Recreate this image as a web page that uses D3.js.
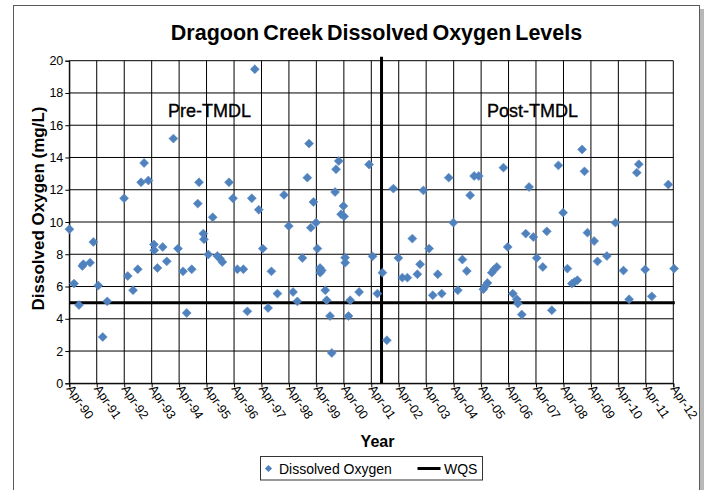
<!DOCTYPE html>
<html>
<head>
<meta charset="utf-8">
<script src="https://cdn.jsdelivr.net/npm/d3@7"></script>
<style>
  body { margin: 0; background: #fff; }
  text { font-family: "Liberation Sans", Arial, sans-serif; fill: #000; }
</style>
</head>
<body>
<div id="chart"></div>
<script>
const width = 711;
const height = 490;

// sample dates and dissolved oxygen (mg/L)
const sampleDates = [
  "1990-04-03","1990-06-03","1990-08-08","1990-09-22","1990-10-05","1991-01-02","1991-02-15","1991-04-22","1991-06-20","1991-08-19",
  "1992-03-30","1992-05-18","1992-07-27","1992-09-28","1992-11-11","1992-12-21","1993-02-16","1993-05-01","1993-05-05","1993-06-16",
  "1993-08-26","1993-10-19","1994-01-15","1994-03-17","1994-05-23","1994-07-11","1994-09-16","1994-12-05","1994-12-22","1995-02-17",
  "1995-02-26","1995-04-25","1995-06-22","1995-08-23","1995-09-27","1995-10-28","1996-01-25","1996-03-18","1996-05-15","1996-08-03",
  "1996-09-25","1996-11-23","1997-01-02","1997-02-24","1997-04-18","1997-06-28","1997-08-11","1997-10-30","1998-01-26","1998-03-30",
  "1998-05-26","1998-07-22","1998-09-27","1998-12-02","1998-12-25","1999-01-17","1999-02-21","1999-03-28","1999-04-15","1999-05-20",
  "1999-06-12","1999-05-22","1999-07-29","1999-08-17","1999-09-30","1999-10-23","1999-12-06","1999-12-19","2000-01-24","2000-02-24",
  "2000-03-26","2000-04-04","2000-04-17","2000-04-19","2000-06-01","2000-06-24","2000-10-21","2001-03-03","2001-04-18","2001-06-21",
  "2001-08-27","2001-10-25",
  "2002-01-20","2002-03-27","2002-05-19","2002-07-25","2002-09-29","2002-12-05","2003-01-10","2003-02-23","2003-05-10","2003-06-28",
  "2003-09-02","2003-10-25","2004-01-26","2004-03-28","2004-05-26","2004-07-26","2004-09-23","2004-11-06","2004-12-29","2005-03-01",
  "2005-05-01","2005-05-24","2005-06-24","2005-08-21","2005-09-21","2005-10-27","2006-01-23","2006-03-21","2006-05-28","2006-07-20",
  "2006-08-02","2006-09-24","2006-11-16","2006-12-30","2007-02-25","2007-04-11","2007-07-01","2007-08-23","2007-10-29","2008-01-24",
  "2008-03-27","2008-05-23","2008-07-21","2008-08-25","2008-10-03","2008-12-05","2009-01-05","2009-02-14","2009-05-14","2009-06-27",
  "2009-10-30","2010-02-21","2010-06-08","2010-08-22","2010-12-02","2010-12-29","2011-03-24","2011-06-20","2012-01-26","2012-04-12"
];

const dissolvedOxygen = [
  9.55, 6.18, 4.85, 7.27, 7.38, 7.48, 8.76, 6.06, 2.87, 5.08,
  11.47, 6.65, 5.77, 7.07, 12.46, 13.66, 12.57, 8.6, 8.25, 7.15,
  8.45, 7.56, 15.17, 8.35, 6.94, 4.36, 7.07, 11.14, 12.46, 9.28,
  8.93, 7.98, 10.29, 7.89, 7.73, 7.52, 12.46, 11.47, 7.07, 7.07,
  4.46, 11.47, 19.47, 10.76, 8.35, 4.67, 6.94, 5.56, 11.68, 9.75,
  5.66, 5.08, 7.77, 12.75, 14.86, 9.65, 11.24, 9.96, 8.35, 7.15,
  7.0, 6.86, 5.77, 5.15, 4.17, 1.88, 11.86, 13.27, 13.78, 10.48,
  10.99, 10.35, 7.79, 7.48, 4.17, 5.15, 5.66, 13.56, 7.87, 5.56,
  6.86, 2.67,
  12.07, 7.77, 6.55, 6.55, 8.97, 6.76, 7.38, 11.96, 8.35, 5.46,
  6.76, 5.56, 12.75, 9.96, 5.77, 7.67, 6.96, 11.66, 12.85, 12.85,
  5.83, 6.01, 6.22, 6.86, 7.05, 7.21, 13.37, 8.45, 5.56, 5.21,
  4.94, 4.26, 9.28, 12.17, 9.07, 7.77, 7.21, 9.42, 4.53, 13.51,
  10.58, 7.11, 6.18, 6.28, 6.39, 14.5, 13.14, 9.34, 8.82, 7.56,
  7.89, 9.96, 6.99, 5.21, 13.06, 13.58, 7.05, 5.39, 12.32, 7.11
];

const tickYears = d3.range(1990, 2013);
const yTicks = d3.range(0, 21, 2);
const wqs = 5;
const tmdlDate = "2001-08-15";
const periodLabels = [
  { text: "Pre-TMDL", date: "1995-05-10", value: 16.5 },
  { text: "Post-TMDL", date: "2007-02-15", value: 16.5 }
];

const parseDate = d3.timeParse("%Y-%m-%d");
const data = sampleDates.map((d, i) => ({ date: parseDate(d), value: dissolvedOxygen[i] }));

const svg = d3.select("#chart")
              .append("svg")
              .attr("width", width)
              .attr("height", height);

// frame with drop shadow
svg.append("rect")
   .attr("x", 17).attr("y", 9)
   .attr("width", 687).attr("height", 500)
   .attr("fill", "#b8b8b8");
svg.append("rect")
   .attr("x", 13.5).attr("y", 5.5)
   .attr("width", 686).attr("height", 500)
   .attr("fill", "#fff")
   .attr("stroke", "#5a5a5a");

const x = d3.scaleTime()
            .domain([new Date(1990, 3, 1), new Date(2012, 3, 1)])
            .range([69.3, 673.3]);

const y = d3.scaleLinear()
            .domain([0, 20])
            .range([383.3, 60.7]);

const tickDates = tickYears.map(yr => new Date(yr, 3, 1));
const fmt = d3.timeFormat("%b-%y");

// grid
svg.append("g")
   .selectAll("line")
   .data(yTicks)
   .enter()
   .append("line")
   .attr("x1", x.range()[0])
   .attr("x2", x.range()[1])
   .attr("y1", d => y(d))
   .attr("y2", d => y(d))
   .attr("stroke", "#000")
   .attr("stroke-width", 1);

svg.append("g")
   .selectAll("line")
   .data(tickDates)
   .enter()
   .append("line")
   .attr("x1", d => x(d))
   .attr("x2", d => x(d))
   .attr("y1", y(0))
   .attr("y2", y(20))
   .attr("stroke", "#000")
   .attr("stroke-width", 1);

// axes
const yAxis = svg.append("g")
                 .attr("transform", `translate(${x.range()[0]},0)`)
                 .call(d3.axisLeft(y).tickValues(yTicks).tickSize(4).tickPadding(2));
yAxis.select(".domain").attr("stroke", "#000");
yAxis.selectAll("text")
     .style("font-size", "12.5px")
     .style("font-family", "'Liberation Sans', Arial, sans-serif");

const xAxis = svg.append("g")
                 .attr("transform", `translate(0,${y(0)})`)
                 .call(d3.axisBottom(x).tickValues(tickDates).tickSize(4).tickFormat(fmt));
xAxis.select(".domain").attr("stroke", "#000");
xAxis.selectAll("text")
     .attr("x", -3)
     .attr("y", 0)
     .attr("dy", 0)
     .attr("transform", "translate(-2,8) rotate(56)")
     .style("text-anchor", "start")
     .style("font-size", "12.5px")
     .style("font-family", "'Liberation Sans', Arial, sans-serif");

// WQS and TMDL lines
svg.append("line")
   .attr("x1", x.range()[0])
   .attr("x2", x.range()[1] + 1.5)
   .attr("y1", y(wqs))
   .attr("y2", y(wqs))
   .attr("stroke", "#000")
   .attr("stroke-width", 3);

svg.append("line")
   .attr("x1", x(parseDate(tmdlDate)))
   .attr("x2", x(parseDate(tmdlDate)))
   .attr("y1", y(0))
   .attr("y2", y(20) - 4)
   .attr("stroke", "#000")
   .attr("stroke-width", 3);

// points
const diamond = d3.symbol().type(d3.symbolSquare).size(40);

svg.append("g")
   .selectAll("path")
   .data(data)
   .enter()
   .append("path")
   .attr("d", diamond)
   .attr("transform", d => `translate(${x(d.date)},${y(d.value)}) rotate(45)`)
   .attr("fill", "#4f81bd")
   .attr("stroke", "#5a8ac6")
   .attr("stroke-width", 0.6);

// period labels
svg.append("g")
   .selectAll("text")
   .data(periodLabels)
   .enter()
   .append("text")
   .attr("x", d => x(parseDate(d.date)))
   .attr("y", d => y(d.value))
   .attr("text-anchor", "middle")
   .style("font-size", "18px")
   .style("stroke", "#000")
   .style("stroke-width", 0.35)
   .text(d => d.text);

// titles
svg.append("text")
   .attr("x", 376.5)
   .attr("y", 40)
   .attr("text-anchor", "middle")
   .style("font-size", "21.5px")
   .style("font-weight", "bold")
   .style("word-spacing", "-2px")
   .text("Dragoon Creek Dissolved Oxygen Levels");

svg.append("text")
   .attr("transform", "translate(44.3,208.5) rotate(-90)")
   .attr("text-anchor", "middle")
   .style("font-size", "17px")
   .style("font-weight", "bold")
   .text("Dissolved Oxygen (mg/L)");

svg.append("text")
   .attr("x", 377.5)
   .attr("y", 447)
   .attr("text-anchor", "middle")
   .style("font-size", "16px")
   .style("font-weight", "bold")
   .text("Year");

// legend
const legend = svg.append("g")
                  .attr("transform", "translate(260.5,456.5)");

legend.append("rect")
      .attr("width", 222)
      .attr("height", 23.5)
      .attr("fill", "#fff")
      .attr("stroke", "#333");

legend.append("path")
      .attr("d", d3.symbol().type(d3.symbolSquare).size(26))
      .attr("transform", "translate(8,12) rotate(45)")
      .attr("fill", "#4f81bd");

legend.append("text")
      .attr("x", 18.5)
      .attr("y", 17)
      .style("font-size", "14px")
      .text("Dissolved Oxygen");

legend.append("line")
      .attr("x1", 157)
      .attr("x2", 180)
      .attr("y1", 12)
      .attr("y2", 12)
      .attr("stroke", "#000")
      .attr("stroke-width", 3);

legend.append("text")
      .attr("x", 183.5)
      .attr("y", 17)
      .style("font-size", "14px")
      .text("WQS");
</script>
</body>
</html>
